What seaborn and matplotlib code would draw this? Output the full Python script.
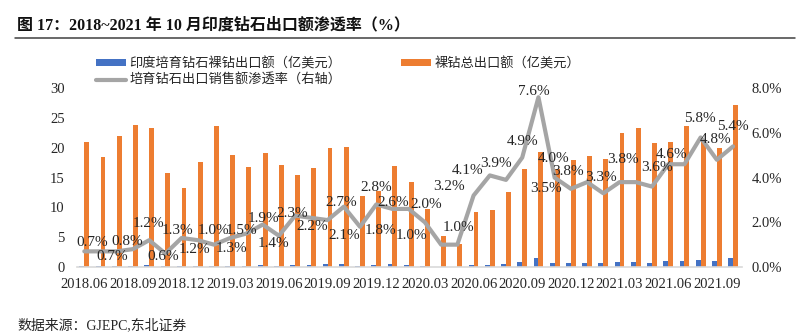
import matplotlib
matplotlib.use("Agg")
import matplotlib.pyplot as plt
import seaborn as sns
import numpy as np
import pandas as pd
from matplotlib.lines import Line2D
from matplotlib.patches import Patch

# ---------------- data ----------------
months = ["2018.06", "2018.07", "2018.08", "2018.09", "2018.10", "2018.11", "2018.12",
          "2019.01", "2019.02", "2019.03", "2019.04", "2019.05", "2019.06", "2019.07",
          "2019.08", "2019.09", "2019.10", "2019.11", "2019.12", "2020.01", "2020.02",
          "2020.03", "2020.04", "2020.05", "2020.06", "2020.07", "2020.08", "2020.09",
          "2020.10", "2020.11", "2020.12", "2021.01", "2021.02", "2021.03", "2021.04",
          "2021.05", "2021.06", "2021.07", "2021.08", "2021.09", "2021.10"]

# 印度培育钻石裸钻出口额（亿美元）
lab_grown = [0.15, 0.13, 0.15, 0.19, 0.28, 0.09, 0.17, 0.21, 0.24, 0.24, 0.25, 0.36, 0.24, 0.35,
             0.37, 0.42, 0.54, 0.21, 0.36, 0.44, 0.37, 0.19, 0.05, 0.04, 0.30, 0.39, 0.49, 0.81,
             1.47, 0.66, 0.63, 0.71, 0.60, 0.86, 0.89, 0.75, 0.97, 1.09, 1.24, 0.96, 1.46]

# 裸钻总出口额（亿美元）
total = [21.0, 18.5, 22.0, 23.9, 23.4, 15.7, 13.3, 17.7, 23.7, 18.8, 16.8, 19.1, 17.2, 15.4,
         16.7, 19.9, 20.1, 11.9, 12.8, 17.0, 14.2, 9.7, 5.2, 3.9, 9.3, 9.6, 12.6, 16.5,
         19.3, 16.5, 18.0, 18.7, 18.1, 22.5, 23.4, 20.9, 21.0, 23.7, 21.3, 20.0, 27.2]

# 培育钻石出口销售额渗透率（%，右轴）
rate = [0.7, 0.7, 0.7, 0.8, 1.2, 0.6, 1.3, 1.2, 1.0, 1.3, 1.5, 1.9, 1.4, 2.3,
        2.2, 2.1, 2.7, 1.8, 2.8, 2.6, 2.6, 2.0, 1.0, 1.0, 3.2, 4.1, 3.9, 4.9,
        7.6, 4.0, 3.5, 3.8, 3.3, 3.8, 3.8, 3.6, 4.6, 4.6, 5.8, 4.8, 5.4]

# which points carry a visible data label in the reference
show_label = [1, 1, 0, 1, 1, 1, 1, 1, 1, 1, 1, 1, 1, 1,
              1, 1, 1, 1, 1, 1, 0, 1, 1, 1, 1, 1, 1, 1,
              1, 1, 1, 1, 1, 1, 0, 1, 1, 0, 1, 1, 1]

series_blue = "印度培育钻石裸钻出口额（亿美元）"
series_orange = "裸钻总出口额（亿美元）"
series_line = "培育钻石出口销售额渗透率（右轴）"

# label placement offsets (pixels, +y = downwards) -- styling only
label_offsets_px = [(8, -9), (12, 5), (0, 0), (-6, -8), (-1, -17), (-2, 3), (-4, -7),
                    (-3, 9), (-1, -14), (1, 11), (-5, -3), (1, -6), (-5, 8), (-3, -2),
                    (1, 9), (17, 15), (-3, -4), (20, 4), (0, -17), (1, -6), (0, 0),
                    (1, -18), (-30, -9), (1, -17), (-25, -9), (-22, -5), (-10, -16), (0, -16),
                    (-5, -6), (-1, -19), (-25, 0), (-19, -11), (-2, -16), (3, -23), (0, 0),
                    (5, -19), (3, -10), (0, 0), (-1, -19), (-1, -20), (0, -20)]

BLUE = "#4472C4"
ORANGE = "#ED7D31"
GRAY = "#A5A5A5"
TXT = "#262626"

sns.set_theme(style="white")
plt.rcParams["font.family"] = ["Liberation Serif", "Noto Sans CJK SC"]

df = pd.DataFrame({
    "month": months * 2,
    "value": lab_grown + total,
    "series": [series_blue] * len(months) + [series_orange] * len(months),
})

W, H = 805, 334
fig = plt.figure(figsize=(W / 100, H / 100), dpi=100)
ax = fig.add_axes([77 / W, (H - 267) / H, (742 - 77) / W, (267 - 88.3) / H])

sns.barplot(data=df, x="month", y="value", hue="series", order=months,
            hue_order=[series_blue, series_orange], palette=[BLUE, ORANGE],
            width=0.6, saturation=1, linewidth=0, legend=False, ax=ax)

ax2 = ax.twinx()
sns.lineplot(x=np.arange(len(months)), y=rate, color=GRAY, linewidth=3.0, ax=ax2)

ax.set_xlim(-0.45, len(months) - 0.45)
ax.set_ylim(0, 30)
ax2.set_ylim(0, 8)

ax.set_xticks(range(0, len(months), 3))
ax.set_xticklabels(months[::3], fontsize=10.5, color=TXT, family="Liberation Serif")
ax.set_yticks(range(0, 31, 5))
ax.set_yticklabels([str(v) for v in range(0, 31, 5)], fontsize=10.5, color=TXT,
                   family="Liberation Serif")
ax2.set_yticks([0, 2, 4, 6, 8])
ax2.set_yticklabels([f"{v:.1f}%" for v in [0, 2, 4, 6, 8]], fontsize=10.5, color=TXT,
                    family="Liberation Serif")
ax.set_xlabel("")
ax.set_ylabel("")
ax2.set_ylabel("")
ax2.set_xlabel("")

ax.tick_params(axis="x", length=0, pad=8)
ax.tick_params(axis="y", length=0, pad=9)
ax2.tick_params(axis="y", length=0, pad=7)

for a in (ax, ax2):
    for s in a.spines.values():
        s.set_visible(False)
ax.spines["bottom"].set_visible(True)
ax.spines["bottom"].set_color("#D9D9D9")
ax.spines["bottom"].set_linewidth(1.2)
ax.grid(False)
ax2.grid(False)

# data labels
for i, (v, show) in enumerate(zip(rate, show_label)):
    if not show:
        continue
    dx, dy = label_offsets_px[i]
    ax2.annotate(f"{v:.1f}%", (i, v), xytext=(dx * 0.72, -dy * 0.72),
                 textcoords="offset points", ha="center", va="center",
                 fontsize=11, color=TXT, family="Liberation Serif")

# legend
handles = [Patch(facecolor=BLUE, edgecolor="none"),
           Line2D([], [], color=GRAY, linewidth=3.0),
           Patch(facecolor=ORANGE, edgecolor="none")]
labels = [series_blue, series_line, series_orange]
fig.legend(handles, labels, ncol=2, loc="upper left",
           bbox_to_anchor=(96 / W, 1 - 57 / H), frameon=False, borderpad=0,
           borderaxespad=0, handlelength=2.3, handleheight=0.55, handletextpad=0.25,
           columnspacing=4.5, labelspacing=0.3,
           prop={"family": ["Noto Sans CJK SC"], "size": 9.5}, labelcolor=TXT)

# title, rule and source
fig.text(17 / W, 1 - 25 / H, "图 17：2018~2021 年 10 月印度钻石出口额渗透率（%）",
         fontsize=11.5, fontweight="bold", color="#111111",
         family=["Liberation Serif", "Noto Sans CJK SC"], va="center", ha="left")
fig.add_artist(Line2D([15 / W, 795 / W], [1 - 37.5 / H, 1 - 37.5 / H],
                      transform=fig.transFigure, color="#404040", linewidth=1.1))
fig.text(17 / W, 1 - 325 / H, "数据来源：GJEPC,东北证券", fontsize=10, color=TXT,
         family=["Liberation Serif", "Noto Sans CJK SC"], va="center", ha="left")

fig.savefig("out.png", dpi=100)
